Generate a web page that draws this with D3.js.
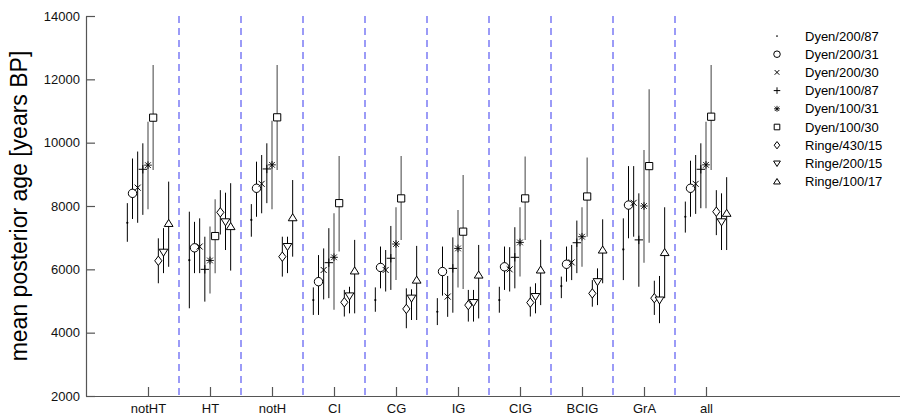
<!DOCTYPE html>
<html>
<head>
<meta charset="utf-8">
<script src="https://cdn.jsdelivr.net/npm/d3@7"></script>
<style>
  body { margin: 0; background: #fff; }
  svg { display: block; font-family: "Liberation Sans", Arial, sans-serif; }
</style>
</head>
<body>
<div id="chart"></div>
<script>
// groups on the x axis
const groups = ['notHT', 'HT', 'notH', 'CI', 'CG', 'IG', 'CIG', 'BCIG', 'GrA', 'all'];

// series, in legend order
const seriesNames = ['Dyen/200/87', 'Dyen/200/31', 'Dyen/200/30', 'Dyen/100/87', 'Dyen/100/31',
    'Dyen/100/30', 'Ringe/430/15', 'Ringe/200/15', 'Ringe/100/17'];
const seriesMarkers = ['dot', 'circle', 'x', 'plus', 'star', 'square', 'diamond', 'tridown', 'triup'];

// mean posterior age, one row per series, one column per group
const means = [
    [7470, 6290, 7560, 5030, 5030, 4660, 5030, 5470, 6630, 7660],
    [8400, 6680, 8560, 5610, 6060, 5930, 6080, 6160, 8030, 8560],
    [8580, 6720, 8700, 5980, 5980, 5140, 6000, 6220, 8100, 8700],
    [9160, 6000, 9170, 6210, 6350, 6030, 6380, 6840, 6930, 9160],
    [9290, 6280, 9300, 6380, 6800, 6660, 6850, 7030, 8000, 9300],
    [10790, 7050, 10800, 8090, 8240, 7190, 8240, 8300, 9260, 10820],
    [6270, 7800, 6400, 4960, 4750, 4870, 4950, 5240, 5090, 7820],
    [6540, 7500, 6720, 5160, 5090, 4950, 5140, 5610, 5030, 7500],
    [7450, 7350, 7630, 5950, 5660, 5820, 5980, 6610, 6530, 7770]
];

// lower end of the error bars
const lower = [
    [6870, 4770, 7030, 4560, 4660, 4240, 4630, 5090, 5660, 7160],
    [7590, 5880, 7660, 4560, 5400, 5170, 5350, 5610, 6980, 7660],
    [7470, 5880, 7770, 5050, 5300, 4500, 5300, 5660, 7030, 7750],
    [7720, 4980, 8090, 5090, 5350, 4630, 5400, 5880, 5450, 7930],
    [7900, 5240, 7900, 4720, 5660, 5430, 5770, 6080, 6210, 7930],
    [9140, 5880, 9140, 6560, 6930, 5380, 6930, 7030, 6840, 9140],
    [5560, 7100, 5770, 4510, 4140, 4350, 4510, 4820, 4560, 7080],
    [5880, 6610, 5880, 4610, 4400, 4350, 4610, 4870, 4300, 6610],
    [6080, 5960, 6400, 4610, 4400, 4450, 4870, 5560, 5090, 6610]
];

// upper end of the error bars
const upper = [
    [8090, 7820, 8060, 5430, 5430, 5090, 5450, 5770, 7610, 8140],
    [9500, 7500, 9400, 6450, 6720, 6720, 6720, 6720, 9260, 9430],
    [9720, 7610, 9610, 6660, 6610, 5790, 6700, 6770, 9260, 9610],
    [9980, 7030, 9980, 7300, 7370, 7010, 7330, 7540, 8400, 9980],
    [10660, 7350, 10690, 7770, 7960, 7870, 7960, 7960, 9770, 10660],
    [12450, 8210, 12450, 9580, 9580, 8980, 9560, 9530, 11690, 12450],
    [6980, 8500, 7030, 5350, 5400, 5350, 5450, 5660, 5640, 8500],
    [7300, 8420, 7030, 5450, 5370, 5350, 5560, 6030, 5790, 8400],
    [8770, 8720, 8820, 6930, 6740, 6770, 6930, 7580, 7960, 8910]
];

const yTicks = [2000, 4000, 6000, 8000, 10000, 12000, 14000];

const width = 900, height = 415;
const margin = { top: 16, right: 0, bottom: 19, left: 86 };
const groupStep = 62;   // px between group ticks

const svg = d3.select('#chart').append('svg')
    .attr('width', width)
    .attr('height', height);

const x = d3.scaleLinear()
    .domain([0, (width - margin.left) / groupStep])
    .range([margin.left, width - margin.right]);
const y = d3.scaleLinear()
    .domain([2000, 14000])
    .range([height - margin.bottom, margin.top]);

// offset of each series within a group (in group units)
const seriesOffset = k => (k - 4) / 12;

// marker shapes, centred on 0,0
function markerPath(type, s) {
    const p = d3.path();
    switch (type) {
        case 'circle':
            p.moveTo(s, 0); p.arc(0, 0, s, 0, 2 * Math.PI); break;
        case 'square':
            p.rect(-s, -s, 2 * s, 2 * s); break;
        case 'diamond':
            p.moveTo(0, -s * 1.3); p.lineTo(s, 0); p.lineTo(0, s * 1.3); p.lineTo(-s, 0); p.closePath(); break;
        case 'tridown':
            p.moveTo(-s * 1.15, -s * 0.8); p.lineTo(s * 1.15, -s * 0.8); p.lineTo(0, s * 1.05); p.closePath(); break;
        case 'triup':
            p.moveTo(-s * 1.15, s * 0.8); p.lineTo(s * 1.15, s * 0.8); p.lineTo(0, -s * 1.05); p.closePath(); break;
        case 'x':
            p.moveTo(-s, -s); p.lineTo(s, s); p.moveTo(-s, s); p.lineTo(s, -s); break;
        case 'plus':
            p.moveTo(-s, 0); p.lineTo(s, 0); p.moveTo(0, -s); p.lineTo(0, s); break;
        case 'star':
            p.moveTo(-s, 0); p.lineTo(s, 0); p.moveTo(0, -s); p.lineTo(0, s);
            p.moveTo(-s * 0.75, -s * 0.75); p.lineTo(s * 0.75, s * 0.75);
            p.moveTo(-s * 0.75, s * 0.75); p.lineTo(s * 0.75, -s * 0.75); break;
    }
    return p.toString();
}

function drawMarker(g, type, scale) {
    if (type === 'dot') {
        g.append('circle').attr('r', 1.1 * scale).attr('fill', '#000');
        return;
    }
    const sizes = { circle: 4.2, square: 3.6, diamond: 3.6, tridown: 3.8, triup: 3.8, x: 3, plus: 4.2, star: 3.8 };
    const filled = ['circle', 'square', 'diamond', 'tridown', 'triup'].includes(type);
    g.append('path')
        .attr('d', markerPath(type, sizes[type] * scale))
        .attr('fill', filled ? '#fff' : 'none')
        .attr('stroke', '#000')
        .attr('stroke-width', type === 'star' ? 0.9 : 1);
}

// dashed separators between groups
svg.append('g')
    .selectAll('line')
    .data(d3.range(1, groups.length))
    .join('line')
    .attr('x1', d => x(d + 0.5))
    .attr('x2', d => x(d + 0.5))
    .attr('y1', y(14000))
    .attr('y2', y(2000))
    .attr('stroke', '#7b7bf5')
    .attr('stroke-width', 1.5)
    .attr('stroke-dasharray', '7,5');

// axes
const yAxis = d3.axisLeft(y).tickValues(yTicks).tickFormat(d3.format('d'))
    .tickSizeInner(-9).tickSizeOuter(0).tickPadding(6);
const xAxis = d3.axisBottom(x).tickValues(d3.range(1, groups.length + 1))
    .tickFormat(d => groups[d - 1]).tickSizeInner(-9).tickSizeOuter(0).tickPadding(8);

const gy = svg.append('g').attr('transform', `translate(${margin.left},0)`).call(yAxis);
const gx = svg.append('g').attr('transform', `translate(0,${height - margin.bottom})`).call(xAxis);
[gy, gx].forEach(g => {
    g.select('.domain').attr('stroke', '#555').attr('stroke-width', 1.2);
    g.selectAll('.tick line').attr('stroke', '#555').attr('stroke-width', 1.2);
    g.selectAll('.tick text').attr('fill', '#111').attr('font-size', 13)
        .attr('font-family', '"Liberation Sans", Arial, sans-serif');
});

svg.append('text')
    .attr('transform', `translate(27,${(y(14000) + y(2000)) / 2}) rotate(-90)`)
    .attr('text-anchor', 'middle')
    .attr('font-size', 23)
    .attr('fill', '#000')
    .text('mean posterior age [years BP]');

// error bars and markers
const points = [];
seriesNames.forEach((name, k) => {
    groups.forEach((grp, i) => {
        points.push({ k, i, mean: means[k][i], lo: lower[k][i], hi: upper[k][i] });
    });
});

const pts = svg.append('g').selectAll('g')
    .data(points)
    .join('g')
    .attr('transform', d => `translate(${x(d.i + 1 + seriesOffset(d.k))},0)`);

pts.append('line')
    .attr('y1', d => y(d.lo))
    .attr('y2', d => y(d.hi))
    .attr('stroke', d => (d.k === 4 || d.k === 5) ? '#777' : '#000')
    .attr('stroke-width', d => (d.k === 4 || d.k === 5) ? 1.4 : 1);

pts.each(function(d) {
    const g = d3.select(this).append('g').attr('transform', `translate(0,${y(d.mean)})`);
    drawMarker(g, seriesMarkers[d.k], 1);
});

// legend
const legend = svg.append('g').attr('transform', 'translate(777,36)');
seriesNames.forEach((name, k) => {
    const row = legend.append('g').attr('transform', `translate(0,${k * 18.2})`);
    drawMarker(row.append('g'), seriesMarkers[k], 0.78);
    row.append('text')
        .attr('x', 28)
        .attr('dy', '0.35em')
        .attr('font-size', 13)
        .attr('fill', '#000')
        .text(name);
});
</script>
</body>
</html>
